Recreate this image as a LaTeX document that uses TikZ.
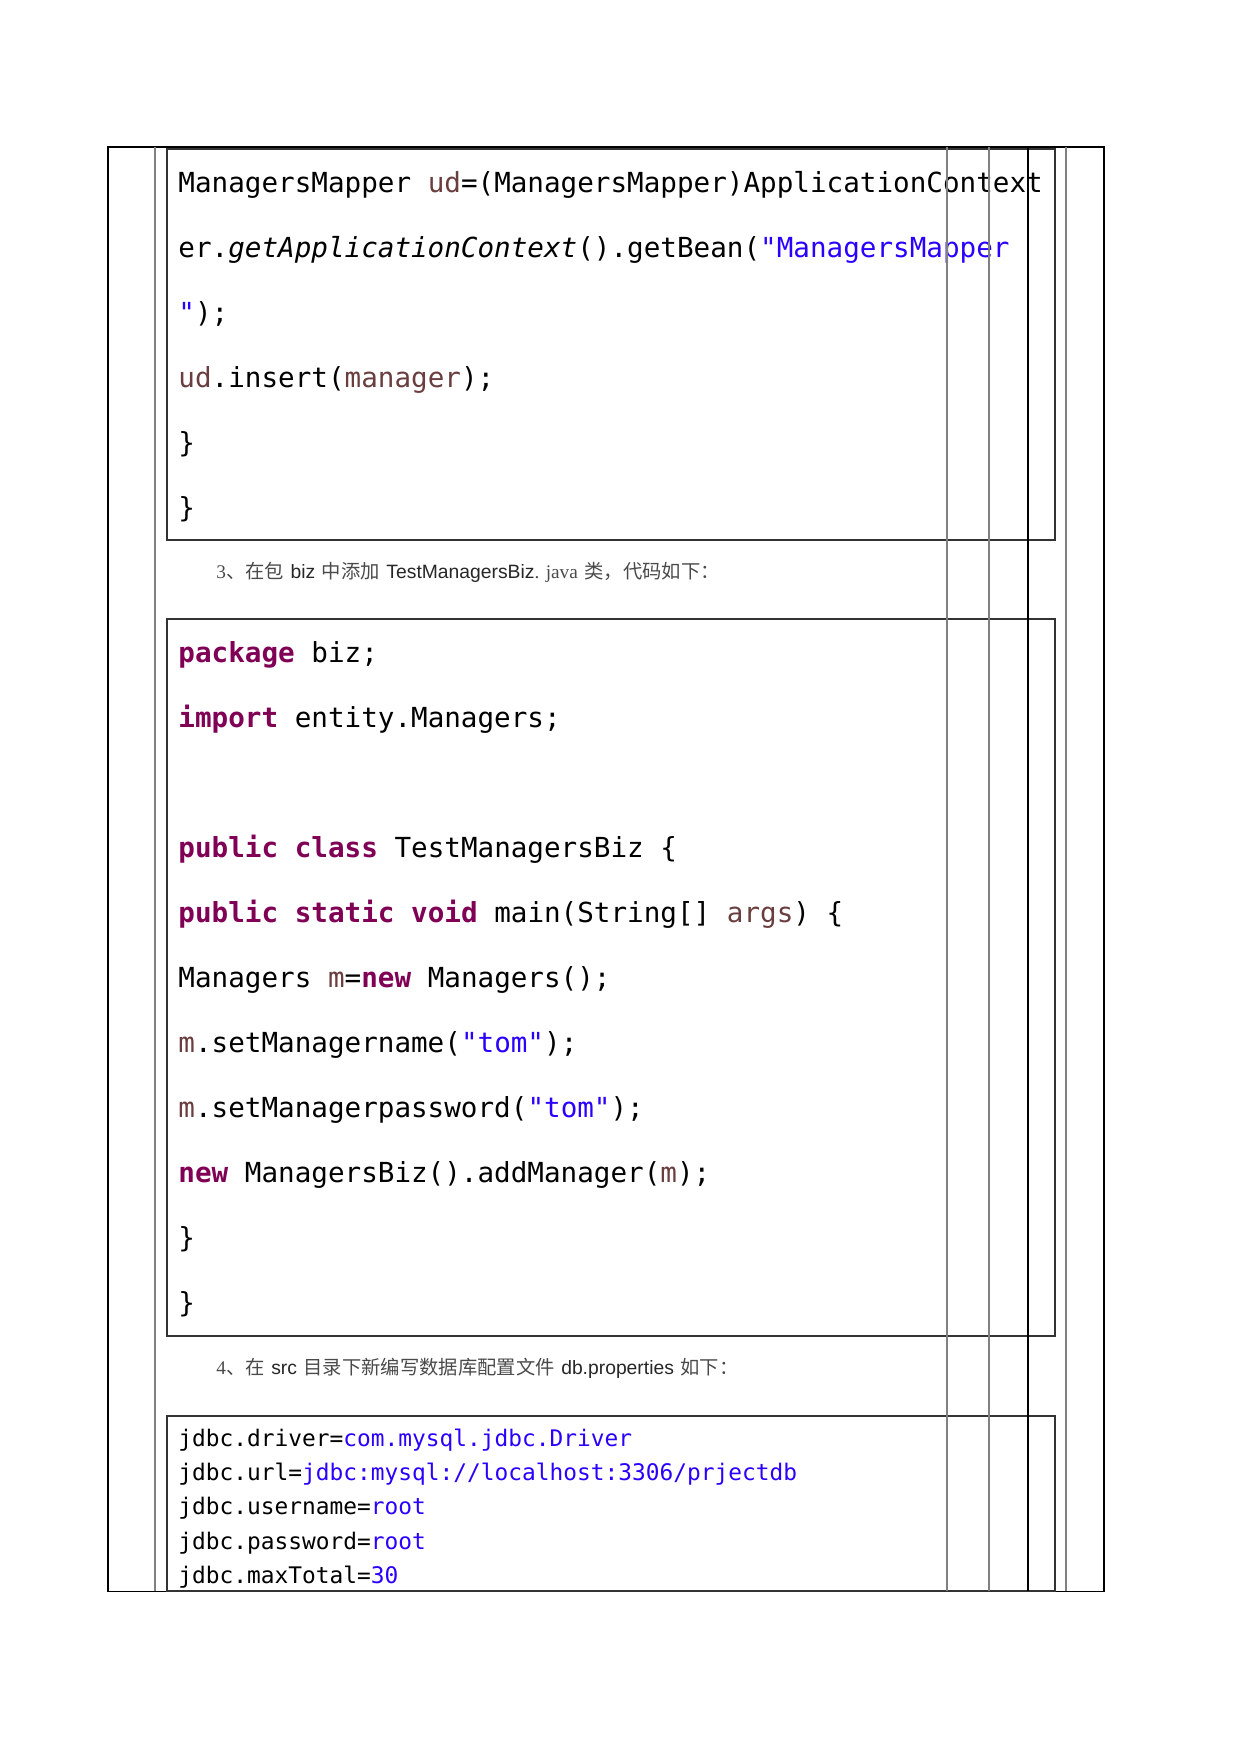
\documentclass[tikz,border=0pt]{standalone}
\usepackage{fontspec}
\usepackage{xcolor}
\usepackage{tikz}
\usetikzlibrary{positioning,calc}
\newfontfamily\codefont{DejaVu Sans Mono}
\newfontfamily\cjk{Noto Sans CJK SC}
\newfontfamily\capsans{Liberation Sans}
\newfontfamily\capserif{Liberation Serif}
\definecolor{kwpurple}{HTML}{7F0055}
\definecolor{varbrown}{HTML}{6A3E3E}
\definecolor{strblue}{HTML}{2A00FF}
\definecolor{capgray}{HTML}{4A4A4A}
\definecolor{rulegray}{HTML}{808080}
\newcommand{\javakw}[1]{{\bfseries\color{kwpurple}#1}}
\newcommand{\javavar}[1]{{\color{varbrown}#1}}
\newcommand{\javastr}[1]{{\color{strblue}#1}}
\tikzstyle{codeline} = [anchor=base west, inner sep=0pt, font=\codefont\fontsize{13.3pt}{16pt}\selectfont]
\tikzstyle{propline} = [anchor=base west, inner sep=0pt, font=\codefont\fontsize{11pt}{13pt}\selectfont]
\tikzstyle{caption} = [anchor=base west, inner sep=0pt, text=capgray, font=\fontsize{9.3pt}{11pt}\selectfont]
\tikzstyle{codebox} = [draw=black!80, line width=0.9pt]
\tikzstyle{grayrule} = [draw=rulegray, line width=0.7pt]
\tikzstyle{blackrule} = [draw=black, line width=0.5pt]

\begin{document}
\begin{tikzpicture}[x=0.1693mm, y=-0.1693mm]
\useasboundingbox (0,0) rectangle (1240,1753);
% outer table
\draw[blackrule] (108,147) rectangle (1104,1591);
% code boxes
\draw[codebox] (167,149) rectangle (1055,540);
\draw[codebox] (167,619) rectangle (1055,1336);
\draw[codebox] (167,1416) rectangle (1055,1591);
% first box
\node[codeline] (a1) at (178,192) {ManagersMapper \javavar{ud}=(ManagersMapper)ApplicationContext};
\node[codeline] (a2) at (178,257) {er.{\itshape getApplicationContext}().getBean(\javastr{"ManagersMapper}};
\node[codeline] (a3) at (178,322) {\javastr{"});};
\node[codeline] (a4) at (178,387) {\javavar{ud}.insert(\javavar{manager});};
\node[codeline] (a5) at (178,452) {\}};
\node[codeline] (a6) at (178,517) {\}};
% caption 3
\node[caption] (c3) at (216,578) {{\capserif 3}{\cjk 、在包} {\capsans\color{black!85} biz} {\cjk 中添加} {\capsans\color{black!85} TestManagersBiz}{\capserif . java} {\cjk 类，代码如下：}};
% second box
\node[codeline] (b1) at (178,662) {\javakw{package} biz;};
\node[codeline] (b2) at (178,727) {\javakw{import} entity.Managers;};
\node[codeline] (b3) at (178,857) {\javakw{public} \javakw{class} TestManagersBiz \{};
\node[codeline] (b4) at (178,922) {\javakw{public} \javakw{static} \javakw{void} main(String[] \javavar{args}) \{};
\node[codeline] (b5) at (178,987) {Managers \javavar{m}=\javakw{new} Managers();};
\node[codeline] (b6) at (178,1052) {\javavar{m}.setManagername(\javastr{"tom"});};
\node[codeline] (b7) at (178,1117) {\javavar{m}.setManagerpassword(\javastr{"tom"});};
\node[codeline] (b8) at (178,1182) {\javakw{new} ManagersBiz().addManager(\javavar{m});};
\node[codeline] (b9) at (178,1247) {\}};
\node[codeline] (b10) at (178,1312) {\}};
% caption 4
\node[caption] (c4) at (216,1374) {{\capserif 4}{\cjk 、在} {\capsans\color{black!85} src} {\cjk 目录下新编写数据库配置文件} {\capsans\color{black!85} db.properties} {\cjk 如下：}};
% third box
\node[propline] (p1) at (178,1446) {jdbc.driver=\javastr{com.mysql.jdbc.Driver}};
\node[propline] (p2) at (178,1480) {jdbc.url=\javastr{jdbc:mysql://localhost:3306/prjectdb}};
\node[propline] (p3) at (178,1514) {jdbc.username=\javastr{root}};
\node[propline] (p4) at (178,1549) {jdbc.password=\javastr{root}};
\node[propline] (p5) at (178,1583) {jdbc.maxTotal=\javastr{30}};
% column rules
\draw[grayrule] (155,147) -- (155,1591);
\draw[grayrule] (947,147) -- (947,1591);
\draw[grayrule] (989,147) -- (989,1591);
\draw[blackrule] (1028,147) -- (1028,1591);
\draw[grayrule] (1066,147) -- (1066,1591);
\end{tikzpicture}
\end{document}
